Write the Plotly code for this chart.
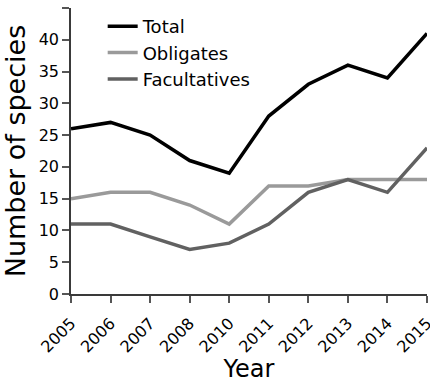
import plotly.graph_objects as go

years = ["2005", "2006", "2007", "2008", "2010", "2011", "2012", "2013", "2014", "2015"]
total = [26, 27, 25, 21, 19, 28, 33, 36, 34, 41]
obligates = [15, 16, 16, 14, 11, 17, 17, 18, 18, 18]
facultatives = [11, 11, 9, 7, 8, 11, 16, 18, 16, 23]

series = [
    ("Total", total, "#000000"),
    ("Obligates", obligates, "#9a9a9a"),
    ("Facultatives", facultatives, "#616161"),
]

fig = go.Figure()
for name, vals, col in series:
    fig.add_trace(go.Scatter(
        x=years, y=vals, mode="lines", name=name, legendgroup=name,
        line=dict(color=col, width=3.5),
    ))

fig.update_layout(
    width=430, height=383,
    margin=dict(l=71, r=3, t=8, b=89),
    paper_bgcolor="white", plot_bgcolor="white",
    font=dict(family="DejaVu Sans", color="black"),
    showlegend=True,
    legend=dict(x=0.089, y=1.0, xanchor="left", yanchor="top",
                font=dict(size=18), bgcolor="rgba(0,0,0,0)",
                tracegroupgap=3, traceorder="normal"),
    xaxis=dict(
        type="category", range=[0, 9], automargin=False,
        title=dict(text="Year", font=dict(size=24), standoff=4),
        showline=True, linecolor="#3a3a3a", linewidth=1.5,
        ticks="outside", ticklen=7, tickcolor="#555", tickwidth=1.5,
        tickangle=-45, tickfont=dict(size=16), ticklabelstandoff=5,
        showgrid=False, zeroline=False,
    ),
    yaxis=dict(
        range=[0, 45], dtick=5, automargin=False,
        title=dict(text="Number of species", font=dict(size=27), standoff=6),
        showline=True, linecolor="#3a3a3a", linewidth=1.5,
        ticks="outside", ticklen=7, tickcolor="#555", tickwidth=1.5,
        tickfont=dict(size=16),
        showgrid=False, zeroline=False,
    ),
)

fig.write_html("out.html", config={"displayModeBar": False},
               post_script="document.body.style.margin='0';")
